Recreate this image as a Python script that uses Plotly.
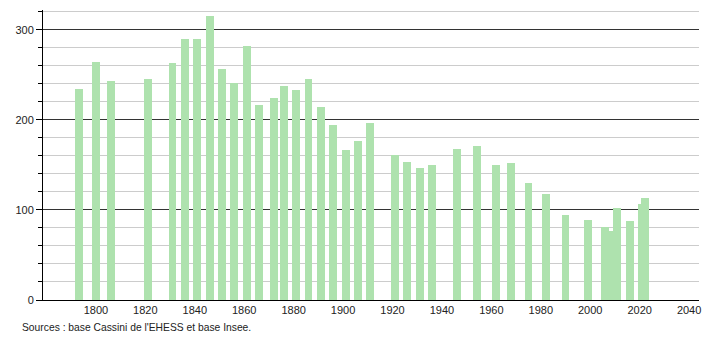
import plotly.graph_objects as go

years = [1793, 1800, 1806, 1821, 1831, 1836, 1841, 1846, 1851, 1856, 1861, 1866,
         1872, 1876, 1881, 1886, 1891, 1896, 1901, 1906, 1911, 1921, 1926, 1931,
         1936, 1946, 1954, 1962, 1968, 1975, 1982, 1990, 1999, 2006, 2008, 2011,
         2016, 2021, 2022]
population = [234, 264, 243, 245, 263, 290, 290, 315, 256, 241, 282, 217,
              224, 238, 233, 245, 214, 194, 167, 176, 197, 161, 153, 147,
              150, 168, 171, 150, 152, 130, 118, 94, 89, 81, 77, 102,
              88, 107, 113]
x_ticks = [1800, 1820, 1840, 1860, 1880, 1900, 1920, 1940, 1960, 1980, 2000, 2020, 2040]
source_text = "Sources : base Cassini de l'EHESS et base Insee."

fig = go.Figure()
fig.add_trace(go.Bar(
    x=years, y=population, width=3.2,
    marker=dict(color="#aee2ae", line=dict(width=0)),
    hoverinfo="x+y",
))

fig.update_layout(
    width=710, height=340,
    margin=dict(l=43, r=9, t=10, b=40),
    plot_bgcolor="white", paper_bgcolor="white",
    font=dict(family="Liberation Sans, Arial, sans-serif", size=11, color="#222"),
    showlegend=False,
    bargap=0,
)
fig.update_xaxes(
    range=[1778.6, 2044], tickvals=x_ticks, showgrid=False,
    showline=True, linecolor="black", linewidth=1, ticks="", zeroline=False,
    fixedrange=True,
)
fig.update_yaxes(
    range=[0, 322], tick0=0, dtick=100, showgrid=True, gridcolor="#333333", gridwidth=1,
    showline=True, linecolor="black", linewidth=1, ticks="outside", ticklen=6,
    tickcolor="black", zeroline=False,
    minor=dict(dtick=20, ticks="outside", ticklen=4, tickcolor="black",
               showgrid=True, gridcolor="#cccccc", gridwidth=1),
    fixedrange=True,
)
fig.add_annotation(
    text=source_text, xref="paper", yref="paper", x=-0.035, y=-0.07,
    xanchor="left", yanchor="top", showarrow=False,
    font=dict(size=10.3, color="#222"),
)
fig.write_html("out.html")
